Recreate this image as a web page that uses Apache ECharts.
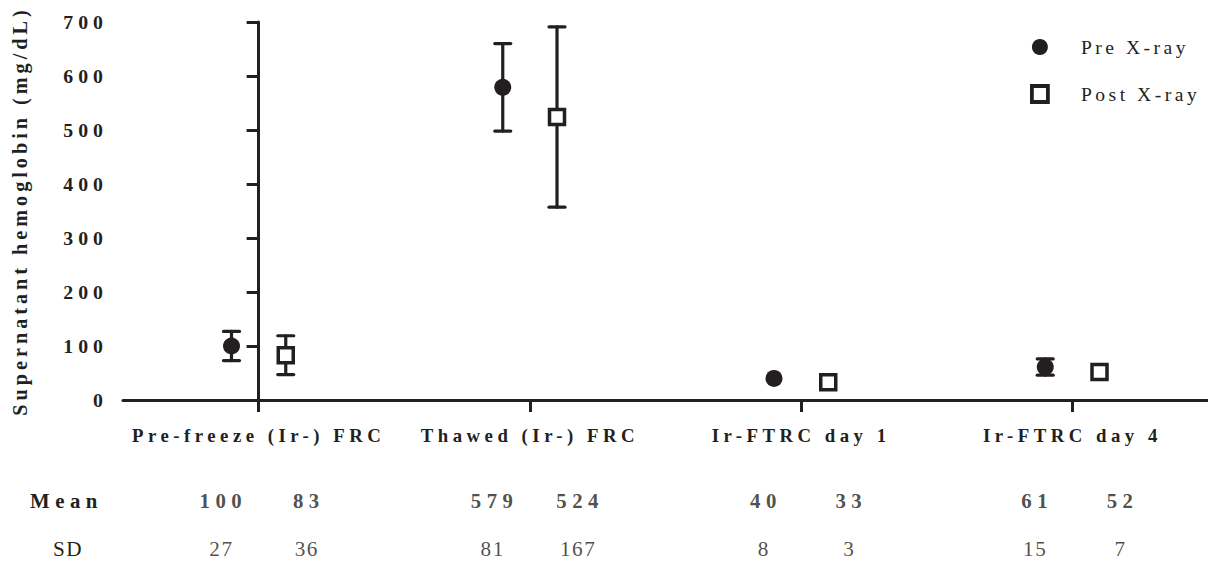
<!DOCTYPE html>
<html>
<head>
<meta charset="utf-8">
<script src="https://cdn.jsdelivr.net/npm/echarts@6/dist/echarts.min.js"></script>
<style>
  html, body { margin: 0; padding: 0; background: #fff; }
  #chart { width: 1208px; height: 561px; }
  /* letter spacing per text group (keyed by font size) */
  text[style*="19.8px"] { letter-spacing: 5px; }
  text[style*="20.2px"] { letter-spacing: 4px; }
  text[style*="18.8px"] { letter-spacing: 4.5px; }
  text[style*="19.6px"] { letter-spacing: 3.5px; }
  text[style*="20.8px"] { letter-spacing: 5.5px; }
  text[style*="21.2px"] { letter-spacing: 1.5px; }
</style>
</head>
<body>
<div id="chart"></div>
<script>
// ---- data ----
const categories = ['Pre-freeze (Ir-) FRC', 'Thawed (Ir-) FRC', 'Ir-FTRC day 1', 'Ir-FTRC day 4'];
const seriesNames = ['Pre X-ray', 'Post X-ray'];
const preMean = [100, 579, 40, 61];
const preSD = [27, 81, 8, 15];
const postMean = [83, 524, 33, 52];
const postSD = [36, 167, 3, 7];
const yMin = 0, yMax = 700, yInterval = 100;
const rowHeaders = ['Mean', 'SD'];

// ---- styling ----
const INK = '#231f20';
const FONT = "'Liberation Serif', 'Times New Roman', serif";
const PT_OFF = 0.1;      // point offset from category centre
const PRE_TXT = -0.14;   // table column offsets
const POST_TXT = 0.175;

const prePts = preMean.map((m, i) => [i - PT_OFF, m]);
const postPts = postMean.map((m, i) => [i + PT_OFF, m]);
const preErr = preMean.map((m, i) => [i - PT_OFF, m - preSD[i], m + preSD[i]]);
const postErr = postMean.map((m, i) => [i + PT_OFF, m - postSD[i], m + postSD[i]]);

const meanRow = [];
const sdRow = [];
categories.forEach((c, i) => {
  meanRow.push([i + PRE_TXT, 1, preMean[i]], [i + POST_TXT, 1, postMean[i]]);
  sdRow.push([i + PRE_TXT, 0, preSD[i]], [i + POST_TXT, 0, postSD[i]]);
});

function errRender(params, api) {
  const x = api.value(0);
  const lo = api.coord([x, api.value(1)]);
  const hi = api.coord([x, api.value(2)]);
  // like the source plot: error bars shorter than the symbol are hidden behind it
  if ((lo[1] - hi[1]) / 2 < 8) return { type: 'group', children: [] };
  const w = 8;
  const st = { stroke: INK, lineWidth: 3.2, lineCap: 'round' };
  return {
    type: 'group',
    children: [
      { type: 'line', shape: { x1: lo[0], y1: lo[1], x2: hi[0], y2: hi[1] }, style: st },
      { type: 'line', shape: { x1: hi[0] - w, y1: hi[1], x2: hi[0] + w, y2: hi[1] }, style: st },
      { type: 'line', shape: { x1: lo[0] - w, y1: lo[1], x2: lo[0] + w, y2: lo[1] }, style: st }
    ]
  };
}

const chart = echarts.init(document.getElementById('chart'), null, { renderer: 'svg' });
chart.setOption({
  animation: false,
  backgroundColor: '#fff',
  grid: [
    { left: 123, top: 22, width: 1092, height: 378, containLabel: false },
    { left: 123, top: 500, width: 1092, height: 49, containLabel: false }
  ],
  legend: {
    orient: 'vertical',
    left: 1030,
    top: 37,
    padding: 0,
    itemWidth: 16,
    itemHeight: 16,
    itemGap: 27,
    selectedMode: false,
    textStyle: { fontFamily: FONT, fontSize: 19.6, color: INK, padding: [0, 0, 0, 28] },
    data: [
      { name: seriesNames[0], icon: 'circle', itemStyle: { color: INK, borderWidth: 0 } },
      { name: seriesNames[1], icon: 'rect', itemStyle: { color: '#fff', borderColor: INK, borderWidth: 3.8 } }
    ]
  },
  xAxis: [
    {
      type: 'category', gridIndex: 0, data: categories, boundaryGap: true,
      axisLine: { show: true, lineStyle: { color: INK, width: 3 } },
      axisTick: { show: true, alignWithLabel: true, length: 12, lineStyle: { color: INK, width: 3 } },
      axisLabel: { interval: 0, margin: 26, color: INK, fontFamily: FONT, fontWeight: 'bold', fontSize: 18.8 },
      splitLine: { show: false }
    },
    { type: 'value', gridIndex: 0, min: -0.5, max: 3.5, show: false },
    { type: 'value', gridIndex: 1, min: -0.5, max: 3.5, show: false }
  ],
  yAxis: [
    {
      type: 'value', gridIndex: 0, min: yMin, max: yMax, interval: yInterval,
      name: 'Supernatant hemoglobin (mg/dL)',
      nameLocation: 'middle', nameGap: 93, nameRotate: 90,
      nameTextStyle: { color: INK, fontFamily: FONT, fontWeight: 'bold', fontSize: 20.2 },
      axisLine: { show: true, lineStyle: { color: INK, width: 3 } },
      axisTick: { show: true, length: 12, lineStyle: { color: INK, width: 3 } },
      axisLabel: { margin: 15, color: INK, fontFamily: FONT, fontWeight: 'bold', fontSize: 19.8 },
      splitLine: { show: false }
    },
    { type: 'value', gridIndex: 1, min: 0, max: 1, show: false }
  ],
  graphic: [
    { type: 'text', x: 66.5, y: 500, style: { text: rowHeaders[0], fill: INK, font: "bold 20.8px " + FONT, textAlign: 'center', textVerticalAlign: 'middle' } },
    { type: 'text', x: 68, y: 549, style: { text: rowHeaders[1], fill: INK, font: "21.2px " + FONT, textAlign: 'center', textVerticalAlign: 'middle' } }
  ],
  series: [
    { type: 'custom', name: 'preErr', xAxisIndex: 1, yAxisIndex: 0, renderItem: errRender, data: preErr, z: 2, silent: true },
    { type: 'custom', name: 'postErr', xAxisIndex: 1, yAxisIndex: 0, renderItem: errRender, data: postErr, z: 2, silent: true },
    {
      type: 'scatter', name: seriesNames[0], xAxisIndex: 1, yAxisIndex: 0, data: prePts,
      symbol: 'circle', symbolSize: 17, itemStyle: { color: INK, opacity: 1 }, z: 3
    },
    {
      type: 'scatter', name: seriesNames[1], xAxisIndex: 1, yAxisIndex: 0, data: postPts,
      symbol: 'rect', symbolSize: 15, itemStyle: { color: '#fff', borderColor: INK, borderWidth: 3.5, opacity: 1 }, z: 3
    },
    {
      type: 'scatter', name: 'meanRow', xAxisIndex: 2, yAxisIndex: 1, data: meanRow, silent: true,
      symbolSize: 1, itemStyle: { color: 'transparent' },
      label: { show: true, position: 'inside', formatter: p => String(p.value[2]), color: INK, fontFamily: FONT, fontWeight: 'bold', fontSize: 20.8, offset: [2.75, 0] }
    },
    {
      type: 'scatter', name: 'sdRow', xAxisIndex: 2, yAxisIndex: 1, data: sdRow, silent: true,
      symbolSize: 1, itemStyle: { color: 'transparent' },
      label: { show: true, position: 'inside', formatter: p => String(p.value[2]), color: INK, fontFamily: FONT, fontWeight: 'normal', fontSize: 21.2, offset: [0.75, 0] }
    }
  ]
});
</script>
</body>
</html>
